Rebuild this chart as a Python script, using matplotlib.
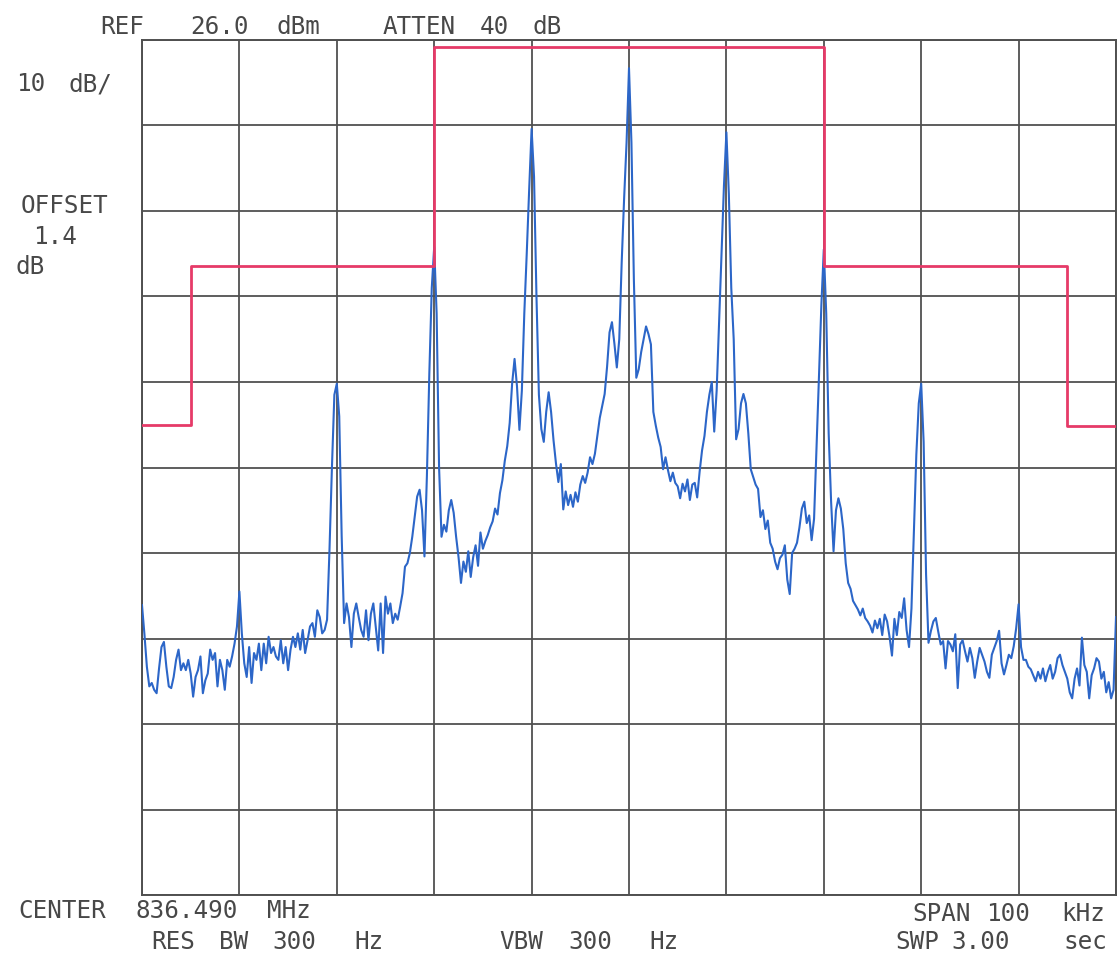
import numpy as np
import matplotlib
matplotlib.use("Agg")
import matplotlib.pyplot as plt

# sweep settings (display in kHz offset from centre, dBm)
start_khz = -50
stop_khz = 50
n_points = 401
ref_dbm = 26.0
db_per_div = 10

# measured trace, 401 points, one row of 10 = 2.5 kHz
trace_dbm = [
    -40.1, -43.5, -47.3, -49.6, -49.2, -50.0, -50.4, -47.5, -45.0, -44.4,
    -47.3, -49.6, -49.8, -48.5, -46.5, -45.3, -47.7, -46.9, -47.7, -46.5,
    -48.1, -50.8, -48.5, -47.7, -46.1, -50.4, -48.9, -48.1, -45.3, -46.5,
    -45.7, -49.6, -46.5, -47.7, -50.0, -46.5, -47.3, -46.1, -44.6, -42.6,
    -38.5,
    -43.4, -46.9, -48.5, -45.0, -49.2, -45.7, -46.5, -44.6, -47.7, -44.6,
    -46.9, -43.8, -45.7, -45.0, -46.1, -46.5, -44.2, -46.9, -45.0, -47.7,
    -45.3, -43.8, -45.0, -43.4, -45.3, -43.0, -45.7, -44.2, -42.6, -42.2,
    -43.8, -40.7, -41.5, -43.4, -43.0, -41.8, -33.6, -24.0, -15.5, -14.2,
    -18.0, -32.0, -42.2, -39.9, -41.5, -45.0, -41.1, -39.9, -41.5, -43.0,
    -43.8, -40.7, -44.2, -41.1, -39.9, -42.6, -45.4, -39.9, -45.7, -39.1,
    -41.1, -39.9, -42.2, -41.1, -41.8, -40.3, -38.7, -35.6, -35.2, -34.0,
    -32.1, -29.8, -27.4, -26.6, -29.0, -34.4, -25.0, -13.0, -3.0, 1.8,
    -6.0, -24.0, -32.1, -30.7, -31.5, -29.0, -27.8, -29.3, -32.1, -34.5,
    -37.5, -35.0, -36.2, -33.8, -36.8, -34.5, -33.1, -35.5, -31.6, -33.5,
    -32.6, -31.9, -31.0, -30.3, -28.8, -29.5, -27.0, -25.5, -23.2, -21.5,
    -18.8, -14.2, -11.3, -14.5, -19.6, -15.0, -6.0, 1.0, 8.5, 15.6,
    10.0, -4.0, -15.5, -19.5, -21.0, -17.5, -15.2, -17.5, -20.8, -23.5,
    -25.7, -23.6, -28.9, -26.8, -28.4, -27.2, -28.6, -26.9, -28.0, -26.0,
    -25.0, -25.8, -24.6, -22.8, -23.6, -22.4, -20.3, -18.2, -16.8, -15.4,
    -12.2, -8.2, -7.0, -9.5, -12.3, -9.0, 0.0, 7.5, 14.0, 22.7,
    14.0, -2.0, -13.5, -12.5, -10.5, -9.0, -7.5, -8.4, -9.6, -17.5,
    -19.1, -20.5, -21.6, -24.2, -22.8, -24.3, -25.6, -24.6, -25.8, -26.2,
    -27.6, -25.9, -26.8, -25.4, -27.8, -26.0, -25.8, -27.5, -24.5, -22.0,
    -20.3, -17.5, -15.5, -14.0, -19.8, -15.0, -7.0, 1.0, 9.0, 15.2,
    8.0, -3.0, -9.0, -20.7, -19.5, -16.5, -15.4, -16.5, -20.0, -24.2,
    -25.1, -26.0, -26.5, -29.8, -29.0, -31.2, -30.2, -32.8, -33.5, -35.0,
    -35.9, -34.6, -34.2, -33.1, -37.1, -38.8, -34.0, -33.5, -32.8, -31.0,
    -28.8, -28.0, -30.5, -29.6, -32.5, -30.0, -21.8, -13.5, -5.0, 1.5,
    -6.0, -20.0, -28.0, -33.8, -29.0, -27.6, -28.8, -31.2, -35.2, -37.5,
    -38.2, -39.6, -40.1, -40.6, -41.3, -40.5, -41.6, -42.0, -42.5, -43.3,
    -41.9, -42.8, -41.7, -43.6, -41.2, -42.0, -43.8, -46.0, -41.7, -43.6,
    -40.9, -41.6, -39.3, -43.0, -45.0, -40.5, -31.5, -22.5, -16.5, -14.2,
    -21.0, -36.5, -44.5, -43.1, -42.0, -41.6, -43.2, -44.7, -44.3, -47.5,
    -44.3, -44.7, -45.5, -43.5, -49.8, -44.7, -44.2, -45.5, -46.7, -45.1,
    -46.3, -48.6, -46.7, -45.1, -45.9, -46.7, -47.9, -48.6, -45.9, -45.1,
    -44.3, -43.1, -46.9, -48.2, -47.1, -45.9, -46.3, -44.9, -42.8, -40.0,
    -45.0, -46.5, -46.5, -47.3, -47.6, -48.3, -49.0, -47.9, -48.7, -47.5,
    -49.0, -47.9, -47.1, -48.7, -47.9, -46.3, -45.9, -47.1, -47.9, -48.7,
    -50.3, -51.0, -48.7, -47.5, -49.5, -43.9, -47.1, -47.9, -51.0, -48.3,
    -47.5, -46.3, -46.7, -48.7, -47.9, -50.3, -49.1, -51.0, -50.0, -41.5,
]

# emission mask (red limit line)
mask_khz = [-50, -45, -45, -20, -20, 20, 20, 45, 45, 50]
mask_dbm = [-19.0, -19.0, -0.4, -0.4, 25.2, 25.2, -0.4, -0.4, -19.2, -19.2]

W, H = 1119, 961
fig = plt.figure(figsize=(W / 100, H / 100), dpi=100)
fig.patch.set_facecolor("white")
ax = fig.add_axes([142 / W, 1 - 895 / H, 974 / W, 855 / H])

freq_khz = np.linspace(start_khz, stop_khz, n_points)
ax.plot(freq_khz, trace_dbm, color="#2c66c8", lw=1.5, zorder=3)
ax.plot(mask_khz, mask_dbm, color="#e63a68", lw=2.0, zorder=4)

ax.set_xlim(start_khz, stop_khz)
ax.set_ylim(ref_dbm - 10 * db_per_div, ref_dbm)
ax.set_xticks(np.arange(start_khz, stop_khz + 1, 10))
ax.set_yticks(np.arange(ref_dbm - 10 * db_per_div, ref_dbm + 1, db_per_div))
ax.tick_params(length=0, labelbottom=False, labelleft=False)
ax.grid(True, color="#505050", lw=1.3)
for sp in ax.spines.values():
    sp.set_color("#505050")
    sp.set_linewidth(1.4)

# plotter annotations, one word at a time, centred on the word
# (pixel coords from top-left of the picture)
txt_kw = dict(family="DejaVu Sans Mono", fontsize=17.5, color="#484848",
              ha="center", va="center")


def put(x, y, s):
    fig.text(x / W, 1 - y / H, s, **txt_kw)


put(122, 27, "REF")
put(219, 27, "26.0")
put(298, 27, "dBm")
put(419, 27, "ATTEN")
put(494, 27, "40")
put(547, 27, "dB")

put(31, 84, "10")
put(90, 84, "dB/")
put(65, 206, "OFFSET")
put(55, 237, "1.4")
put(30, 267, "dB")

put(62, 911, "CENTER")
put(187, 911, "836.490")
put(289, 911, "MHz")
put(173, 942, "RES")
put(234, 942, "BW")
put(294, 942, "300")
put(369, 942, "Hz")
put(521, 942, "VBW")
put(590, 942, "300")
put(664, 942, "Hz")

put(942, 914, "SPAN")
put(1008, 914, "100")
put(1083, 914, "kHz")
put(917, 942, "SWP")
put(981, 942, "3.00")
put(1085, 942, "sec")

fig.savefig("out.png", dpi=100, facecolor="white")
